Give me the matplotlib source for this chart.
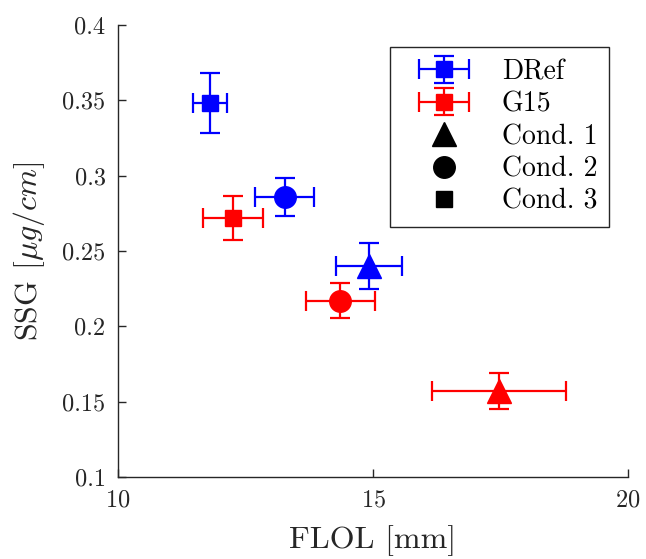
import matplotlib.pyplot as plt
from matplotlib.lines import Line2D
from matplotlib.container import ErrorbarContainer
from matplotlib.legend_handler import HandlerErrorbar

plt.rcParams['font.family'] = ['cmr10', 'DejaVu Serif']
plt.rcParams['mathtext.fontset'] = 'cm'
plt.rcParams['axes.formatter.use_mathtext'] = True

# values: cond 1, cond 2, cond 3
dref_x = [14.92, 13.27, 11.80]
dref_xerr = [0.64, 0.58, 0.33]
dref_y = [0.240, 0.286, 0.348]
dref_yerr = [0.015, 0.0125, 0.020]

g15_x = [17.47, 14.36, 12.26]
g15_xerr = [1.32, 0.68, 0.59]
g15_y = [0.157, 0.217, 0.272]
g15_yerr = [0.012, 0.0116, 0.0144]

markers = ['^', 'o', 's']
msizes = [17, 15.5, 12]
cond_labels = ['Cond. 1', 'Cond. 2', 'Cond. 3']

fig = plt.figure(figsize=(6.46, 5.59), dpi=100)
ax = fig.add_axes([0.1827, 0.1467, 0.7895, 0.8086])

handles = []
for xs, xe, ys, ye, col, name in [(dref_x, dref_xerr, dref_y, dref_yerr, 'blue', 'DRef'),
                                  (g15_x, g15_xerr, g15_y, g15_yerr, 'red', 'G15')]:
    for i in range(3):
        h = ax.errorbar(xs[i], ys[i], xerr=xe[i], yerr=ye[i], fmt=markers[i], color=col,
                        ms=msizes[i], elinewidth=1.6, capsize=7, capthick=1.6)
        if i == 2:
            handles.append((h, name))

cond_handles = [Line2D([], [], ls='none', marker=m, color='black', ms=s)
                for m, s in zip(markers, msizes)]

ax.set_xlim(10, 20)
ax.set_ylim(0.1, 0.4)
ax.set_xticks([10, 15, 20])
ax.set_yticks([0.1, 0.15, 0.2, 0.25, 0.3, 0.35, 0.4])
ax.set_yticklabels(['0.1', '0.15', '0.2', '0.25', '0.3', '0.35', '0.4'])
for s in ['top', 'right']:
    ax.spines[s].set_visible(False)
for s in ['left', 'bottom']:
    ax.spines[s].set_color('#262626')
    ax.spines[s].set_linewidth(1.0)
ax.tick_params(direction='in', length=6, width=1.0, colors='#262626', labelsize=17.5, pad=9)

ax.set_xlabel('FLOL [mm]', fontsize=23, color='#262626', labelpad=10)
ax.set_ylabel(r'SSG [$\mu g/cm$]', fontsize=23, color='#262626', labelpad=11)

leg = ax.legend([h for h, _ in handles] + cond_handles,
                [n for _, n in handles] + cond_labels,
                loc='upper right', bbox_to_anchor=(0.963, 0.951), borderaxespad=0,
                fontsize=20, fancybox=False, framealpha=1, edgecolor='#262626',
                handlelength=3.0, labelspacing=0.22, handletextpad=0.6, borderpad=0.42,
                handler_map={ErrorbarContainer: HandlerErrorbar(xerr_size=0.9, yerr_size=0.49)})
leg.get_frame().set_linewidth(1.0)

fig.savefig('out.png', dpi=100)
